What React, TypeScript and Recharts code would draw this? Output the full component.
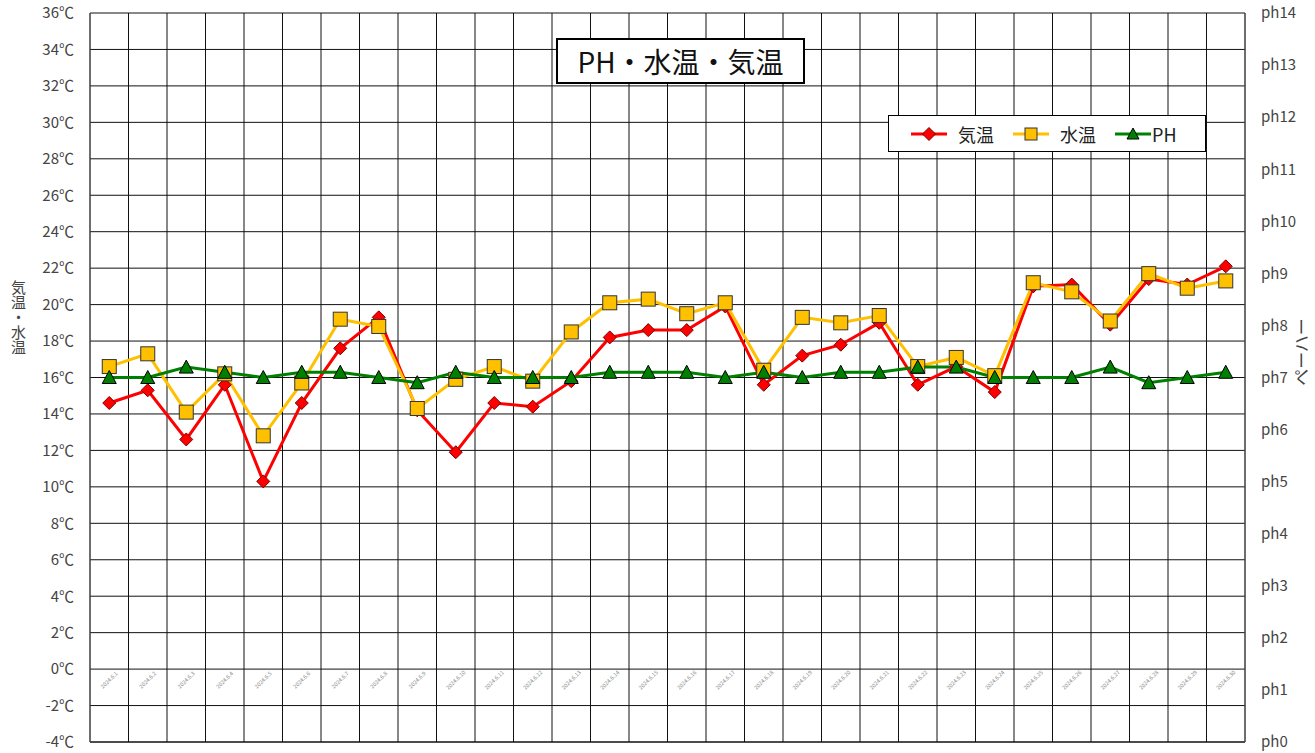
import { ComposedChart, Line, XAxis, YAxis, CartesianGrid } from 'recharts';

const dates = [
  '2024.6.1', '2024.6.2', '2024.6.3', '2024.6.4', '2024.6.5', '2024.6.6', '2024.6.7', '2024.6.8', '2024.6.9', '2024.6.10',
  '2024.6.11', '2024.6.12', '2024.6.13', '2024.6.14', '2024.6.15', '2024.6.16', '2024.6.17', '2024.6.18', '2024.6.19', '2024.6.20',
  '2024.6.21', '2024.6.22', '2024.6.23', '2024.6.24', '2024.6.25', '2024.6.26', '2024.6.27', '2024.6.28', '2024.6.29', '2024.6.30',
];

const airTemp = [
  14.6, 15.3, 12.6, 15.6, 10.3, 14.6, 17.6, 19.3, 14.2, 11.9,
  14.6, 14.4, 15.8, 18.2, 18.6, 18.6, 19.9, 15.6, 17.2, 17.8,
  19.0, 15.6, 16.6, 15.2, 21.0, 21.1, 18.9, 21.4, 21.1, 22.1,
];

const waterTemp = [
  16.6, 17.3, 14.1, 16.2, 12.8, 15.7, 19.2, 18.8, 14.3, 15.9,
  16.6, 15.8, 18.5, 20.1, 20.3, 19.5, 20.1, 16.4, 19.3, 19.0,
  19.4, 16.6, 17.1, 16.1, 21.2, 20.7, 19.1, 21.7, 20.9, 21.3,
];

const ph = [
  7.0, 7.0, 7.2, 7.1, 7.0, 7.1, 7.1, 7.0, 6.9, 7.1,
  7.0, 7.0, 7.0, 7.1, 7.1, 7.1, 7.0, 7.1, 7.0, 7.1,
  7.1, 7.2, 7.2, 7.0, 7.0, 7.0, 7.2, 6.9, 7.0, 7.1,
];

const tempTicks = [-4, -2, 0, 2, 4, 6, 8, 10, 12, 14, 16, 18, 20, 22, 24, 26, 28, 30, 32, 34, 36];
const phTicks = [0, 1, 2, 3, 4, 5, 6, 7, 8, 9, 10, 11, 12, 13, 14];

const data = dates.map((d, i) => ({ date: d, air: airTemp[i], water: waterTemp[i], ph: ph[i] }));

const FONT = '"Noto Sans CJK JP", "Noto Sans", sans-serif';
const RED = '#ff0000';
const YELLOW = '#ffc000';
const GREEN = '#008000';

const Diamond = ({ cx, cy }: any) => (
  <path d={`M${cx},${cy - 6.5}L${cx + 6.5},${cy}L${cx},${cy + 6.5}L${cx - 6.5},${cy}Z`} fill={RED} stroke="#7a0000" strokeWidth={1} />
);
const Square = ({ cx, cy }: any) => (
  <rect x={cx - 7} y={cy - 7} width={14} height={14} fill={YELLOW} stroke="#333" strokeWidth={1} />
);
const Triangle = ({ cx, cy }: any) => (
  <path d={`M${cx},${cy - 7}L${cx + 7},${cy + 6}L${cx - 7},${cy + 6}Z`} fill={GREEN} stroke="#000" strokeWidth={1} />
);

// category labels sit just under the 0℃ line, like the original sheet
const DateTick = ({ x, y, payload }: any) => (
  <g transform={`translate(${x},${y - 62}) rotate(-45)`}>
    <text x={0} y={2} textAnchor="middle" fontSize={5.5} fill="#8a8a8a" fontFamily={FONT}>
      {payload.value}
    </text>
  </g>
);

const legendItems = [
  { label: '気温', color: RED, mark: 'diamond' },
  { label: '水温', color: YELLOW, mark: 'square' },
  { label: 'PH', color: GREEN, mark: 'triangle' },
];

const LegendBox = () => (
  <div style={{ position: 'absolute', left: 888, top: 115, width: 316, height: 35, border: '1px solid #000', background: '#fff', display: 'flex', alignItems: 'center', fontFamily: FONT, fontSize: 18, color: '#222' }}>
    {legendItems.map((it, i) => (
      <div key={it.label} style={{ display: 'flex', alignItems: 'center', marginLeft: i === 0 ? 21 : 18 }}>
        <svg width={38} height={16}>
          <line x1={1} y1={8} x2={37} y2={8} stroke={it.color} strokeWidth={3} />
          {it.mark === 'diamond' && <Diamond cx={19} cy={8} />}
          {it.mark === 'square' && <rect x={13} y={2} width={12} height={12} fill={YELLOW} stroke="#333" />}
          {it.mark === 'triangle' && <path d="M19,2L25,13L13,13Z" fill={GREEN} stroke="#000" />}
        </svg>
        <span style={{ marginLeft: it.label === 'PH' ? 0 : 10 }}>{it.label}</span>
      </div>
    ))}
  </div>
);

export default function App() {
  return (
    <div style={{ position: 'absolute', left: 0, top: 0, width: 1315, height: 753, background: '#fff' }}>
      <ComposedChart width={1315} height={753} data={data} margin={{ top: 13, right: 0, bottom: 0, left: 0 }}>
        <CartesianGrid
          yAxisId="t"
          stroke="#111"
          strokeWidth={1}
          verticalCoordinatesGenerator={({ offset }: any) =>
            dates.map((_, i) => offset.left + (offset.width * i) / dates.length).concat(offset.left + offset.width)
          }
        />
        <XAxis dataKey="date" scale="band" height={11} tickLine={false} axisLine={{ stroke: '#111' }} tickSize={0} tickMargin={0} tick={<DateTick />} interval={0} />
        <YAxis
          yAxisId="t"
          width={90}
          domain={[-4, 36]}
          ticks={tempTicks}
          tickFormatter={(v: number) => `${v}℃`}
          tickLine={false}
          axisLine={{ stroke: '#555' }}
          tickMargin={10}
          tick={{ fill: '#444', fontSize: 15, fontFamily: FONT }}
          interval={0}
        />
        <YAxis
          yAxisId="p"
          orientation="right"
          width={70}
          domain={[0, 14]}
          ticks={phTicks}
          tickFormatter={(v: number) => `ph${v}`}
          tickLine={false}
          axisLine={{ stroke: '#555' }}
          tickMargin={10}
          tick={{ fill: '#444', fontSize: 15, fontFamily: FONT }}
          interval={0}
        />
        <Line yAxisId="t" dataKey="air" name="気温" stroke={RED} strokeWidth={3} dot={<Diamond />} activeDot={false} isAnimationActive={false} />
        <Line yAxisId="t" dataKey="water" name="水温" stroke={YELLOW} strokeWidth={3} dot={<Square />} activeDot={false} isAnimationActive={false} />
        <Line yAxisId="p" dataKey="ph" name="PH" stroke={GREEN} strokeWidth={3} dot={<Triangle />} activeDot={false} isAnimationActive={false} />
      </ComposedChart>
      <LegendBox />
      <div style={{ position: 'absolute', left: 556, top: 38, width: 245, height: 42, border: '2px solid #000', background: '#fff', fontFamily: FONT, fontSize: 28, lineHeight: '42px', textAlign: 'center', color: '#111' }}>
        PH・水温・気温
      </div>
      <div style={{ position: 'absolute', left: 10, top: 280, width: 18, fontFamily: FONT, fontSize: 15, lineHeight: '19px', color: '#444', writingMode: 'vertical-rl' }}>
        気温・水温
      </div>
      <div style={{ position: 'absolute', left: 1300, top: 352, fontFamily: FONT, fontSize: 17, color: '#444', transform: 'translate(-50%, -50%) rotate(-90deg)', whiteSpace: 'nowrap' }}>
        ペーハー
      </div>
    </div>
  );
}
